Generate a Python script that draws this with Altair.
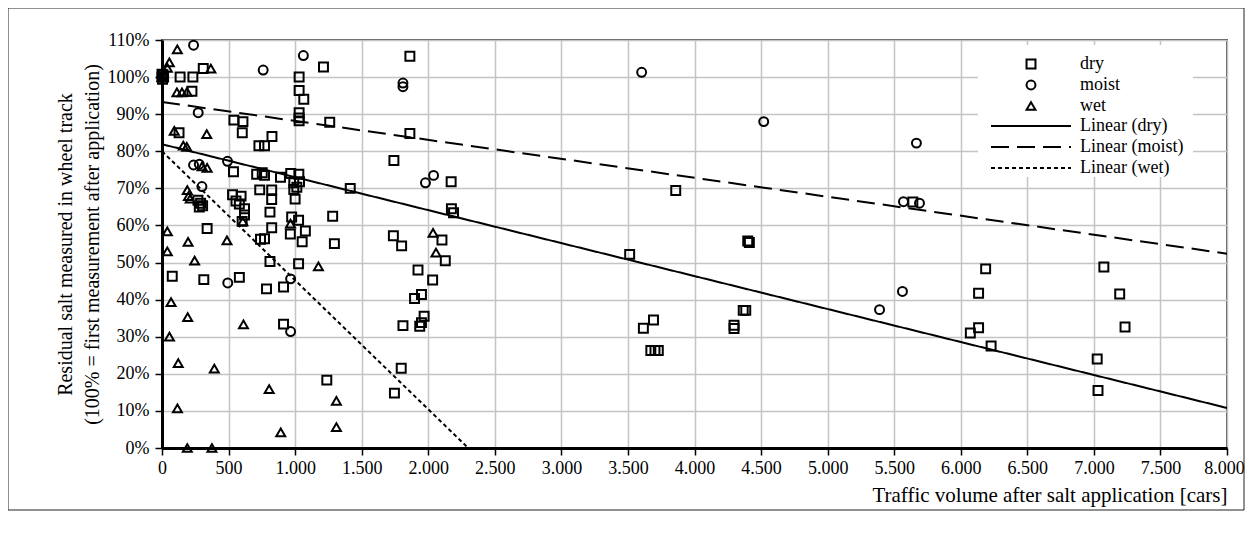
import altair as alt
import pandas as pd

# ---------------- data ----------------
conditions = ["dry", "moist", "wet"]
trend_names = ["Linear (dry)", "Linear (moist)", "Linear (wet)"]

dry_x = [0, 8, 4, 12, 0, 136, 232, 310, 1213, 1862, 1030,
         225, 1030, 1065, 1030, 1030, 1030, 1260,
         540, 608, 603, 1862, 128, 826, 728, 770,
         1742, 537, 711, 753, 770, 890,
         967, 1028, 1033, 990, 1013, 990, 1000,
         974, 1026, 1077, 964, 1053, 1026,
         1414, 2172, 3859,
         270, 290, 305, 280,
         530, 594, 556, 581, 620, 620, 602,
         734, 824, 824, 811, 824,
         339, 740, 770, 811,
         77, 314, 581, 785, 913, 913,
         1282, 1295, 1738, 1800,
         2103, 2128, 2174, 2190,
         1923, 2033, 1897, 1949, 1969, 1949, 1936, 1810,
         1797, 1746, 1238,
         3513, 3616, 3692, 3672, 3703, 3728,
         4297, 4297, 4366, 4385, 4400, 4412,
         5640,
         6187, 6134, 6072, 6134, 6228,
         7075, 7194, 7234, 7025, 7031]
dry_y = [100, 100.6, 99.4, 100, 100.8, 100, 100, 102.3, 102.7, 105.6, 100,
         96.2, 96.4, 94, 90.4, 89, 88.2, 87.8,
         88.4, 88, 85, 84.8, 85, 84, 81.5, 81.5,
         77.5, 74.5, 73.8, 74.2, 73.5, 73,
         74, 73.8, 71.8, 71.5, 70.3, 69.7, 67.1,
         62.3, 61.4, 58.5, 57.7, 55.6, 49.7,
         70, 71.8, 69.4,
         66.8, 66, 65.3, 65,
         68.3, 67.9, 66.6, 65.8, 64.5, 62.8, 61.1,
         69.6, 69.6, 67, 63.6, 59.4,
         59.2, 56.3, 56.4, 50.3,
         46.3, 45.4, 46, 42.9, 43.4, 33.4,
         62.5, 55.1, 57.2, 54.5,
         56.1, 50.5, 64.5, 63.4,
         48, 45.3, 40.3, 41.4, 35.5, 33.8, 32.8, 33,
         21.5, 14.8, 18.3,
         52.2, 32.3, 34.5, 26.3, 26.3, 26.3,
         33.1, 32.2, 37.1, 37.1, 55.8, 55.4,
         66.3,
         48.3, 41.7, 31, 32.4, 27.5,
         48.8, 41.5, 32.6, 24, 15.5]

moist_x = [0, 237, 1062, 760, 1810, 1810, 272,
           492, 237, 280, 300, 1979, 2040,
           3603, 4520, 5570, 5690, 5667, 5562, 5390,
           494, 966, 966]
moist_y = [100, 108.6, 105.8, 101.9, 98.4, 97.4, 90.4,
           77.3, 76.3, 76.5, 70.5, 71.5, 73.5,
           101.3, 88, 66.4, 66, 82.2, 42.2, 37.3,
           44.5, 45.6, 31.4]

wet_x = [0, 115, 55, 40, 367, 112, 150, 188,
         92, 336, 160, 186, 301, 339,
         190, 199, 212, 607, 965,
         40, 196, 488, 40, 245, 1175, 2036, 2058,
         68, 193, 612, 56, 122, 393, 805, 116,
         1310, 1310, 892, 190, 375]
wet_y = [100, 107.5, 104, 102.5, 102.3, 95.9, 95.9, 96,
         85.5, 84.6, 81.5, 81.2, 75.9, 75.5,
         69.5, 67.9, 67.2, 61.1, 60.5,
         58.4, 55.6, 56, 53, 50.5, 49, 58, 52.7,
         39.3, 35.3, 33.3, 30, 22.9, 21.4, 15.9, 10.7,
         12.7, 5.6, 4.2, 0, 0]

# trend lines: start / end points
trend_x_start = [0, 0, 0]
trend_y_start = [81.9, 93.3, 80.0]
trend_x_end = [8000, 8000, 2300]
trend_y_end = [10.8, 52.4, 0.0]

x_ticks = list(range(0, 8001, 500))
y_ticks = list(range(0, 111, 10))

# ---------------- tables ----------------
pts = pd.concat([
    pd.DataFrame({"traffic": dry_x, "residual": dry_y, "condition": "dry"}),
    pd.DataFrame({"traffic": moist_x, "residual": moist_y, "condition": "moist"}),
    pd.DataFrame({"traffic": wet_x, "residual": wet_y, "condition": "wet"}),
], ignore_index=True)

rows = []
for name, x0, y0, x1, y1 in zip(trend_names, trend_x_start, trend_y_start, trend_x_end, trend_y_end):
    rows.append({"traffic": x0, "residual": y0, "series": name})
    rows.append({"traffic": x1, "residual": y1, "series": name})
trend = pd.DataFrame(rows)

one = pd.DataFrame({"k": [0]})

FONT = "Liberation Serif"
W, H = 1065, 408

xscale = alt.Scale(domain=[0, 8000], nice=False, zero=False)
yscale = alt.Scale(domain=[0, 110], nice=False)

x_axis = alt.Axis(
    values=x_ticks,
    labelExpr="replace(format(datum.value, ','), ',', '.')",
    title="Traffic volume after salt application [cars]",
    titleAnchor="end",
    titleFontSize=21,
    titlePadding=7,
    labelPadding=4,
    labelFlush=False,
    labelOffset=alt.condition("datum.value == 8000", alt.value(-3), alt.value(0)),
)
y_axis = alt.Axis(
    values=y_ticks,
    labelExpr="datum.value + '%'",
    title=["Residual salt measured in wheel track",
           "(100% = first measurement after application)"],
    titleFontSize=20,
    titleLineHeight=27,
    titlePadding=5,
    labelPadding=6,
)

legend_bg = alt.Chart(one).mark_rect(fill="white", stroke=None).encode(
    x=alt.value(816), x2=alt.value(1031), y=alt.value(5), y2=alt.value(137)
)

frame = alt.Chart(one).mark_rect(fillOpacity=0, stroke="#222222", strokeWidth=1).encode(
    x=alt.value(-154), x2=alt.value(1082), y=alt.value(-32), y2=alt.value(470)
)

lines = alt.Chart(trend).mark_line(color="black", strokeWidth=2).encode(
    x=alt.X("traffic:Q", scale=xscale, axis=x_axis),
    y=alt.Y("residual:Q", scale=yscale, axis=y_axis),
    strokeDash=alt.StrokeDash(
        "series:N",
        scale=alt.Scale(domain=trend_names, range=[[1, 0], [18, 8], [4, 3]]),
        legend=alt.Legend(
            title=None, orient="none", legendX=828, legendY=77,
            symbolType="stroke", symbolSize=6400, symbolStrokeWidth=2,
            symbolStrokeColor="black", clipHeight=18, rowPadding=3,
            labelOffset=8, padding=0, labelFont=FONT, labelFontSize=18,
            labelColor="black", labelLimit=300,
        ),
    ),
)

points = alt.Chart(pts).mark_point(
    filled=False, color="black", strokeWidth=2, size=80, opacity=1
).encode(
    x=alt.X("traffic:Q", scale=xscale, axis=x_axis),
    y=alt.Y("residual:Q", scale=yscale, axis=y_axis),
    shape=alt.Shape(
        "condition:N",
        scale=alt.Scale(domain=conditions, range=["square", "circle", "triangle-up"]),
        legend=alt.Legend(
            title=None, orient="none", legendX=828, legendY=15,
            symbolSize=80, symbolStrokeWidth=2, symbolStrokeColor="black",
            symbolFillColor="white", clipHeight=18, rowPadding=3,
            symbolOffset=32, labelOffset=40, padding=0,
            labelFont=FONT, labelFontSize=18, labelColor="black",
        ),
    ),
)

chart = alt.layer(legend_bg, lines, points, frame).resolve_legend(
    shape="independent", strokeDash="independent"
).properties(
    width=W, height=H,
    padding={"left": 154, "top": 32, "right": 18, "bottom": 70},
    autosize=alt.AutoSizeParams(type="none"),
).configure_view(
    stroke="#555555", strokeWidth=2
).configure_axis(
    labelFont=FONT, labelFontSize=18, labelColor="black",
    titleFont=FONT, titleFontSize=18, titleFontWeight="normal", titleColor="black",
    gridColor="#c4c4c4", gridWidth=1.5,
    domainColor="black", domainWidth=3,
    tickColor="black", tickSize=7, tickWidth=1.5,
)

chart.save("out.html", embed_options={"renderer": "svg", "actions": False})
